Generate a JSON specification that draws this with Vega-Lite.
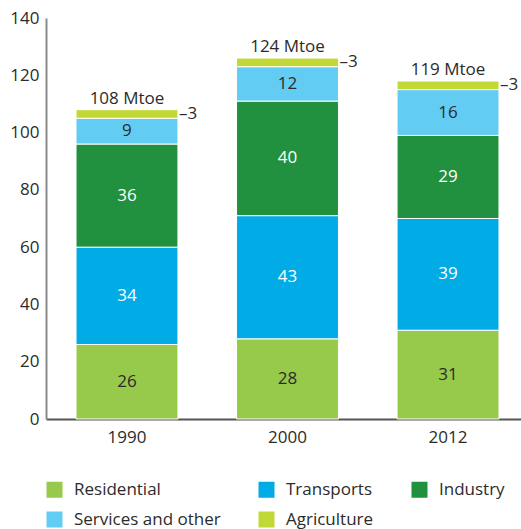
{
  "$schema": "https://vega.github.io/schema/vega-lite/v6.json",
  "width": 475,
  "height": 401,
  "autosize": {"type": "none"},
  "padding": {"left": 46, "top": 18, "right": 0, "bottom": 110},
  "config": {
    "font": "Open Sans",
    "view": {"stroke": null},
    "axis": {"grid": false, "ticks": false, "labelFontSize": 17, "labelColor": "#2b2b2b", "title": null, "domainWidth": 2}
  },
  "data": {
    "values": [
      {"year": "1990", "sector": "Residential", "order": 1, "value": 26, "total": 108},
      {"year": "1990", "sector": "Transports", "order": 2, "value": 34, "total": 108},
      {"year": "1990", "sector": "Industry", "order": 3, "value": 36, "total": 108},
      {"year": "1990", "sector": "Services and other", "order": 4, "value": 9, "total": 108},
      {"year": "1990", "sector": "Agriculture", "order": 5, "value": 3, "total": 108},
      {"year": "2000", "sector": "Residential", "order": 1, "value": 28, "total": 124},
      {"year": "2000", "sector": "Transports", "order": 2, "value": 43, "total": 124},
      {"year": "2000", "sector": "Industry", "order": 3, "value": 40, "total": 124},
      {"year": "2000", "sector": "Services and other", "order": 4, "value": 12, "total": 124},
      {"year": "2000", "sector": "Agriculture", "order": 5, "value": 3, "total": 124},
      {"year": "2012", "sector": "Residential", "order": 1, "value": 31, "total": 119},
      {"year": "2012", "sector": "Transports", "order": 2, "value": 39, "total": 119},
      {"year": "2012", "sector": "Industry", "order": 3, "value": 29, "total": 119},
      {"year": "2012", "sector": "Services and other", "order": 4, "value": 16, "total": 119},
      {"year": "2012", "sector": "Agriculture", "order": 5, "value": 3, "total": 119}
    ]
  },
  "transform": [
    {"stack": "value", "groupby": ["year"], "sort": [{"field": "order", "order": "ascending"}], "as": ["y0", "y1"]},
    {"calculate": "(datum.y0 + datum.y1) / 2", "as": "mid"}
  ],
  "encoding": {
    "x": {
      "field": "year",
      "type": "nominal",
      "scale": {"range": [0, 483], "paddingInner": 0.365, "paddingOuter": 0.187},
      "axis": {"labelAngle": 0, "labelPadding": 10, "domainColor": "#555555"}
    }
  },
  "layer": [
    {
      "mark": {"type": "bar", "stroke": "white", "strokeWidth": 1},
      "encoding": {
        "y": {
          "field": "y0",
          "type": "quantitative",
          "scale": {"domain": [0, 140]},
          "axis": {"values": [0, 20, 40, 60, 80, 100, 120, 140], "labelPadding": 7, "domainColor": "#8a8a8a"}
        },
        "y2": {"field": "y1"},
        "color": {
          "field": "sector",
          "type": "nominal",
          "scale": {
            "domain": ["Residential", "Transports", "Industry", "Services and other", "Agriculture"],
            "range": ["#97c94b", "#00abe6", "#21903f", "#62ccf3", "#c2d835"]
          },
          "legend": {
            "orient": "none",
            "legendX": 0,
            "legendY": 463,
            "direction": "horizontal",
            "columns": 3,
            "title": null,
            "symbolType": "square",
            "symbolSize": 256,
            "symbolStrokeWidth": 0,
            "symbolOpacity": 1,
            "labelFontSize": 17,
            "labelColor": "#2b2b2b",
            "labelOffset": 11,
            "columnPadding": 37,
            "rowPadding": 12,
            "labelLimit": 300
          }
        }
      }
    },
    {
      "transform": [{"filter": "datum.sector !== 'Agriculture'"}],
      "mark": {"type": "text", "fontSize": 17, "baseline": "middle", "align": "center"},
      "encoding": {
        "y": {"field": "mid", "type": "quantitative"},
        "text": {"field": "value", "type": "quantitative"},
        "color": {
          "condition": {"test": "datum.sector === 'Transports' || datum.sector === 'Industry'", "value": "#ffffff"},
          "value": "#2b2b2b"
        }
      }
    },
    {
      "transform": [{"filter": "datum.sector === 'Agriculture'"}],
      "mark": {"type": "text", "fontSize": 17, "baseline": "middle", "align": "left", "dx": 52, "color": "#2b2b2b"},
      "encoding": {
        "y": {"field": "mid", "type": "quantitative"},
        "text": {"value": "–3"}
      }
    },
    {
      "transform": [
        {"filter": "datum.sector === 'Agriculture'"},
        {"calculate": "datum.total + ' Mtoe'", "as": "totalLabel"}
      ],
      "mark": {"type": "text", "fontSize": 17, "baseline": "bottom", "align": "center", "dy": -2, "color": "#2b2b2b"},
      "encoding": {
        "y": {"field": "y1", "type": "quantitative"},
        "text": {"field": "totalLabel"}
      }
    }
  ]
}
